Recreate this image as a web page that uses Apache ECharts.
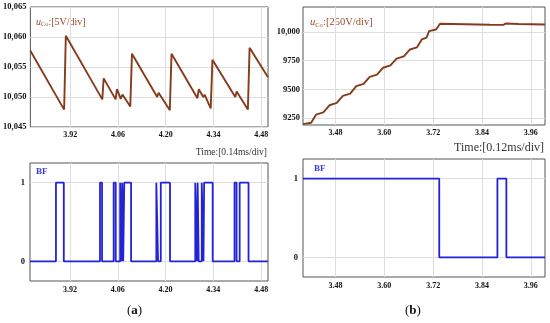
<!DOCTYPE html>
<html>
<head>
<meta charset="utf-8">
<script src="https://cdn.jsdelivr.net/npm/echarts@6/dist/echarts.min.js"></script>
<style>html,body{margin:0;padding:0;background:#fff;}#c{width:550px;height:323px;}</style>
</head>
<body>
<div id="c"></div>
<script>
// ---- Data (a) ----
const uCoA_t = [3.803, 3.902, 3.907, 4.014, 4.018, 4.053, 4.057, 4.068, 4.073, 4.096, 4.101, 4.175, 4.179, 4.212, 4.217, 4.293, 4.297, 4.310, 4.314, 4.332, 4.337, 4.404, 4.408, 4.441, 4.446, 4.500];
const uCoA_v = [10057.7, 10047.9, 10060.2, 10049.6, 10053.1, 10049.6, 10051.3, 10049.7, 10050.4, 10048.4, 10057.2, 10050.0, 10050.7, 10047.8, 10057.2, 10049.8, 10051.3, 10050.0, 10050.4, 10048.1, 10056.2, 10050.0, 10050.9, 10047.9, 10058.2, 10053.3];
const bfA_rise = [3.879, 4.008, 4.048, 4.067, 4.073, 4.079, 4.173, 4.186, 4.287, 4.294, 4.306, 4.313, 4.402, 4.417];
const bfA_fall = [3.902, 4.014, 4.054, 4.071, 4.076, 4.099, 4.178, 4.213, 4.292, 4.297, 4.311, 4.338, 4.408, 4.443];
const xTicksA = [3.92, 4.06, 4.20, 4.34, 4.48];
const yTicksA = [10045, 10050, 10055, 10060, 10065];

// ---- Data (b) ----
const uCoB_t = [3.400, 3.420, 3.432, 3.450, 3.465, 3.483, 3.498, 3.516, 3.531, 3.549, 3.564, 3.582, 3.597, 3.615, 3.630, 3.648, 3.663, 3.680, 3.692, 3.704, 3.710, 3.727, 3.737, 3.800, 3.860, 3.893, 3.898, 3.930, 3.995];
const uCoB_v = [9198, 9210, 9280, 9300, 9362, 9382, 9443, 9463, 9528, 9548, 9609, 9629, 9689, 9709, 9768, 9788, 9848, 9866, 9935, 9952, 10008, 10022, 10072, 10068, 10064, 10062, 10074, 10070, 10066];
const bfB_rise = [3.400, 3.878];
const bfB_fall = [3.735, 3.900];
const xTicksB = [3.48, 3.60, 3.72, 3.84, 3.96];
const yTicksB = [9250, 9500, 9750, 10000];
const bfTicks = [0, 1];

// ---- helpers ----
function zip(t, v) { return t.map((x, i) => [x, v[i]]); }
function pulses(rise, fall, t0, t1) {
  const pts = [];
  if (rise[0] > t0) pts.push([t0, 0]);
  for (let i = 0; i < rise.length; i++) {
    if (rise[i] > t0) pts.push([rise[i], 0]);
    pts.push([rise[i], 1]);
    pts.push([fall[i], 1]);
    pts.push([fall[i], 0]);
  }
  pts.push([t1, 0]);
  return pts;
}
function comma(v) { return String(v).replace(/\B(?=(\d{3})+(?!\d))/g, ','); }

const SERIF = 'Liberation Serif, Times New Roman, serif';
const gridLine = { show: true, lineStyle: { color: '#dedede', width: 1 } };
function xAx(idx, min, max, ticks, fs, margin) {
  return {
    type: 'value', gridIndex: idx, min: min, max: max,
    axisLine: { show: false },
    axisTick: { show: false, customValues: ticks },
    splitLine: gridLine,
    axisLabel: { customValues: ticks, formatter: v => v.toFixed(2), fontFamily: SERIF, fontWeight: 'bold', fontSize: fs, color: '#111', margin: margin }
  };
}
function yAx(idx, min, max, ticks, fs, margin, fmt) {
  return {
    type: 'value', gridIndex: idx, min: min, max: max,
    axisLine: { show: false },
    axisTick: { show: false, customValues: ticks },
    splitLine: gridLine,
    axisLabel: { customValues: ticks, formatter: fmt, fontFamily: SERIF, fontWeight: 'bold', fontSize: fs, color: '#111', margin: margin }
  };
}
const gridStyle = { show: true, borderColor: '#555', borderWidth: 1, backgroundColor: 'transparent', containLabel: false };

const BROWN = '#863c1c';
const BLUE = '#2222d6';
const LBL = '#9a4a2a';

function uLabel(x, y, fs, rest) {
  return [
    { type: 'text', left: x, top: y, style: { text: 'u', font: 'italic ' + fs + 'px ' + SERIF, fill: LBL } },
    { type: 'text', left: x + fs * 0.5, top: y + fs * 0.45, style: { text: 'Co', font: (fs * 0.62) + 'px ' + SERIF, fill: LBL } },
    { type: 'text', left: x + fs * 0.5 + fs * 0.62 * 1.2, top: y, style: { text: rest, font: fs + 'px ' + SERIF, fill: LBL } }
  ];
}

const chart = echarts.init(document.getElementById('c'), null, { renderer: 'canvas' });
chart.setOption({
  animation: false,
  backgroundColor: '#fff',
  grid: [
    Object.assign({ left: 30, top: 7, width: 238, height: 120 }, gridStyle),
    Object.assign({ left: 30, top: 163, width: 238, height: 118 }, gridStyle),
    Object.assign({ left: 303, top: 7, width: 242, height: 118 }, gridStyle),
    Object.assign({ left: 303, top: 159, width: 242, height: 118 }, gridStyle)
  ],
  xAxis: [
    xAx(0, 3.803, 4.500, xTicksA, 8, 4),
    xAx(1, 3.803, 4.500, xTicksA, 8, 5),
    xAx(2, 3.400, 3.995, xTicksB, 8, 4),
    xAx(3, 3.400, 3.995, xTicksB, 8, 5)
  ],
  yAxis: [
    yAx(0, 10045, 10065, yTicksA, 8.5, 4, v => comma(v)),
    yAx(1, -0.25, 1.25, bfTicks, 8.5, 5, v => String(v)),
    yAx(2, 9190, 10218, yTicksB, 8.5, 3, v => v >= 10000 ? comma(v) : String(v)),
    yAx(3, -0.25, 1.25, bfTicks, 8.5, 5, v => String(v))
  ],
  series: [
    { type: 'line', xAxisIndex: 0, yAxisIndex: 0, data: zip(uCoA_t, uCoA_v), showSymbol: false, lineStyle: { color: BROWN, width: 1.9 }, silent: true },
    { type: 'line', xAxisIndex: 1, yAxisIndex: 1, data: pulses(bfA_rise, bfA_fall, 3.803, 4.500), showSymbol: false, lineStyle: { color: BLUE, width: 1.8 }, silent: true },
    { type: 'line', xAxisIndex: 2, yAxisIndex: 2, data: zip(uCoB_t, uCoB_v), showSymbol: false, lineStyle: { color: BROWN, width: 1.9 }, silent: true },
    { type: 'line', xAxisIndex: 3, yAxisIndex: 3, data: pulses(bfB_rise, bfB_fall, 3.400, 3.995), showSymbol: false, lineStyle: { color: BLUE, width: 1.8 }, silent: true }
  ],
  graphic: [].concat(
    uLabel(36, 17, 10, ':[5V/div]'),
    uLabel(310, 17, 10.5, ':[250V/div]'),
    [
    { type: 'text', right: 283, top: 147, style: { text: 'Time:[0.14ms/div]', font: '9.5px ' + SERIF, fill: '#333' } },
    { type: 'text', right: 6, top: 142, style: { text: 'Time:[0.12ms/div]', font: '12px ' + SERIF, fill: '#333' } },
    { type: 'text', left: 36, top: 167, style: { text: 'BF', font: 'bold 9px ' + SERIF, fill: '#3a3ad0' } },
    { type: 'text', left: 314, top: 164, style: { text: 'BF', font: 'bold 9px ' + SERIF, fill: '#3a3ad0' } },
    { type: 'text', left: 127, top: 304, style: { rich: {
        p: { fontFamily: SERIF, fontSize: 13, fill: '#111' },
        b: { fontFamily: SERIF, fontSize: 13, fontWeight: 'bold', fill: '#111' } },
        text: '{p|(}{b|a}{p|)}' } },
    { type: 'text', left: 405, top: 304, style: { rich: {
        p: { fontFamily: SERIF, fontSize: 13, fill: '#111' },
        b: { fontFamily: SERIF, fontSize: 13, fontWeight: 'bold', fill: '#111' } },
        text: '{p|(}{b|b}{p|)}' } }
    ])
});
</script>
</body>
</html>
